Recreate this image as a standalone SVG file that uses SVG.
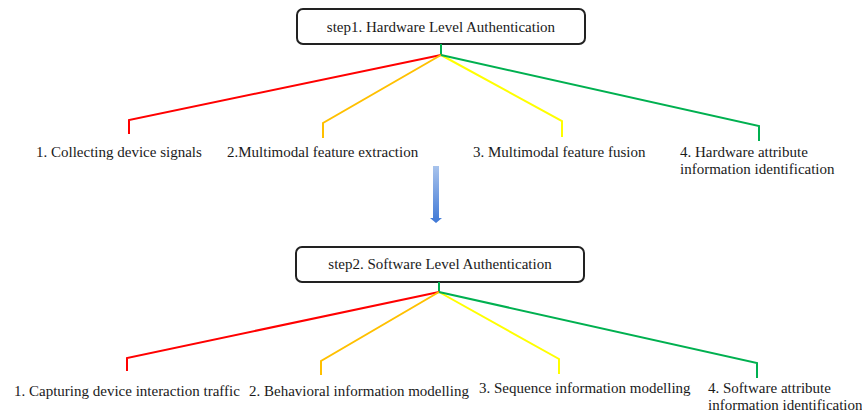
<svg xmlns="http://www.w3.org/2000/svg" width="862" height="414" viewBox="0 0 862 414">
<style>
text{font-family:"Liberation Serif","Times New Roman",serif;font-size:15px;fill:#1a1a1a}
.box{fill:#fff;stroke:#222;stroke-width:2}
.c{fill:none;stroke-width:2;stroke-linejoin:miter}
.r{stroke:#ff0000}.o{stroke:#ffc000}.y{stroke:#ffff00}.g{stroke:#00b050}
</style>
<defs>
<linearGradient id="ag" x1="0" y1="0" x2="0" y2="1">
<stop offset="0" stop-color="#a8c3ec"/>
<stop offset="1" stop-color="#3f78d6"/>
</linearGradient>
</defs>
<rect width="862" height="414" fill="#fff"/>
<g id="step1">
<rect class="box" x="297" y="9" width="288" height="35" rx="6"/>
<text x="441" y="32" text-anchor="middle">step1. Hardware Level Authentication</text>
</g>
<g id="h1"><text x="36" y="157">1. Collecting device signals</text></g>
<g id="h2"><text x="227" y="157">2.Multimodal feature extraction</text></g>
<g id="h3"><text x="473" y="157">3. Multimodal feature fusion</text></g>
<g id="h4"><text x="680" y="157">4. Hardware attribute</text><text x="680" y="174">information identification</text></g>
<g id="step2">
<rect class="box" x="296" y="247" width="288" height="35" rx="6"/>
<text x="440" y="269" text-anchor="middle">step2. Software Level Authentication</text>
</g>
<g id="s1"><text x="14" y="396">1. Capturing device interaction traffic</text></g>
<g id="s2"><text x="249" y="396">2. Behavioral information modelling</text></g>
<g id="s3"><text x="479" y="393">3. Sequence information modelling</text></g>
<g id="s4"><text x="708" y="393">4. Software attribute</text><text x="708" y="410">information identification</text></g>
<g id="connectors">
<path class="c g" d="M441 44V55"/>
<path class="c r" d="M441 55L129 120V134"/>
<path class="c o" d="M441 55L323 123V138"/>
<path class="c y" d="M441 55L562 121V137"/>
<path class="c g" d="M441 55L759 126V141"/>
<path class="c g" d="M439 282V292"/>
<path class="c r" d="M439 292L127 358V371"/>
<path class="c o" d="M439 292L321 361V375"/>
<path class="c y" d="M439 292L559 359V374"/>
<path class="c g" d="M439 292L757 363V378"/>
<path d="M433 166H439V218H442L436 223L430 218H433Z" fill="url(#ag)"/>
</g>
</svg>
